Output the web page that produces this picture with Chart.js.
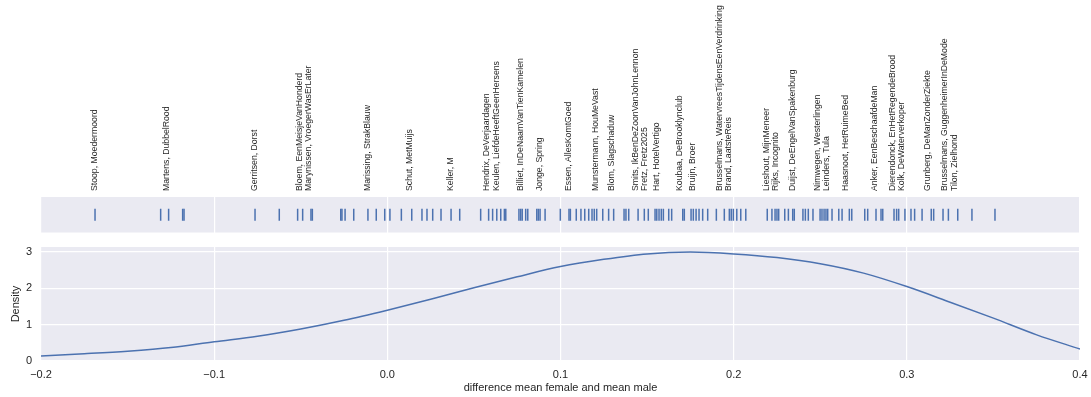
<!DOCTYPE html>
<html>
<head>
<meta charset="utf-8">
<script src="https://cdn.jsdelivr.net/npm/chart.js@4.4.1/dist/chart.umd.min.js"></script>
<style>
  html, body { margin: 0; padding: 0; background: #ffffff; }
  #wrap { position: relative; width: 1091px; height: 397px; }
  canvas { position: absolute; left: 0; }
  #top { top: 0; }
  #bottom { top: 240px; }
</style>
</head>
<body>
<div id="wrap">
  <canvas id="top" width="1091" height="240"></canvas>
  <canvas id="bottom" width="1091" height="157"></canvas>
</div>
<script>
// ---- data ----
const rugValues = [-0.1688,-0.1309,-0.1263,-0.1182,-0.1174,-0.0764,-0.0624,-0.0518,-0.0489,-0.0441,-0.0433,-0.0269,-0.0262,-0.0244,-0.0194,-0.0112,-0.0064,-0.0015,0.0015,0.0081,0.0141,0.0200,0.0229,0.0262,0.0310,0.0368,0.0418,0.0539,0.0585,0.0608,0.0632,0.0655,0.0676,0.0684,0.0760,0.0770,0.0779,0.0799,0.0811,0.0863,0.0872,0.0882,0.0911,0.0999,0.1049,0.1057,0.1091,0.1118,0.1140,0.1163,0.1182,0.1195,0.1209,0.1244,0.1278,0.1307,0.1367,0.1378,0.1394,0.1448,0.1484,0.1507,0.1546,0.1556,0.1569,0.1582,0.1594,0.1625,0.1642,0.1706,0.1715,0.1754,0.1767,0.1783,0.1800,0.1821,0.1850,0.1900,0.1946,0.1975,0.1986,0.1998,0.2018,0.2041,0.2070,0.2194,0.2221,0.2239,0.2250,0.2260,0.2295,0.2316,0.2341,0.2350,0.2400,0.2414,0.2431,0.2458,0.2499,0.2510,0.2522,0.2533,0.2543,0.2568,0.2607,0.2626,0.2668,0.2682,0.2757,0.2774,0.2822,0.2851,0.2861,0.2926,0.2941,0.2953,0.2989,0.3024,0.3045,0.3088,0.3141,0.3155,0.3209,0.3240,0.3294,0.3376,0.3509];

const labelNames = [
  "Stoop, Moedermoord","Martens, DubbelRood","Gerritsen, Dorst","Bloem, EenMeisjeVanHonderd",
  "Marynissen, VroegerWasErLater","Marissing, StrakBlauw","Schut, MetMuijs","Keller, M",
  "Hendrix, DeVerjaardagen","Keulen, LiefdeHeeftGeenHersens","Billiet, InDeNaamVanTienKamelen","Jonge, Spring",
  "Essen, AllesKomtGoed","Munstermann, HouMeVast","Blom, Slagschaduw","Smits, IkBenDeZoonVanJohnLennon",
  "Fretz, Fretz2025","Hart, HotelVertigo","Koubaa, DeBrooklynclub","Bruijn, Broer",
  "Brusselmans, WatervreesTijdensEenVerdrinking","Brand, LaatsteReis","Lieshout, MijnMeneer","Rijks, Incognito",
  "Duijst, DeEngelVanSpakenburg","Nimwegen, Westerlingen","Leinders, Tula","Haasnoot, HetRuimeBed",
  "Anker, EenBeschaafdeMan","Dierendonck, EnHetRegendeBrood","Kolk, DeWaterverkoper","Grunberg, DeManZonderZiekte",
  "Brusselmans, GuggenheimerInDeMode","Tilon, Zielhond"
];
const labelValues = [-0.1688,-0.1272,-0.0764,-0.0504,-0.0452,-0.0115,0.0131,0.0368,0.0576,0.0633,0.0772,0.0882,
  0.1049,0.1205,0.1297,0.1436,0.1488,0.1557,0.1690,0.1765,0.1921,0.1973,0.2192,0.2244,0.2343,0.2487,0.2539,0.2649,
  0.2816,0.2920,0.2972,0.3122,0.3220,0.3273];

const densityX = [-0.2,-0.175,-0.15,-0.125,-0.1,-0.075,-0.05,-0.025,0,0.025,0.05,0.075,0.1,0.125,0.15,0.175,0.2,0.225,0.25,0.275,0.3,0.325,0.35,0.375,0.4];
const densityY = [0.14,0.20,0.27,0.37,0.53,0.68,0.88,1.12,1.40,1.70,2.02,2.32,2.60,2.80,2.95,3.00,2.95,2.85,2.68,2.42,2.05,1.62,1.18,0.72,0.33];

const xTicks = [-0.2,-0.1,0,0.1,0.2,0.3,0.4];
const yTicks = [0,1,2,3];

// ---- styles ----
const PANEL_BG = '#EAEAF2';
const BLUE = '#4C72B0';
const TEXT = '#262626';
const FONT = "'Liberation Sans', Arial, sans-serif";

const panelBg = {
  id: 'panelBg',
  beforeDraw(chart) {
    const {ctx, chartArea: a} = chart;
    ctx.save();
    ctx.fillStyle = PANEL_BG;
    ctx.fillRect(a.left, a.top, a.right - a.left, a.bottom - a.top);
    ctx.restore();
  }
};

const nameLabels = {
  id: 'nameLabels',
  afterDraw(chart) {
    const {ctx} = chart;
    const xs = chart.scales.x;
    ctx.save();
    ctx.fillStyle = TEXT;
    ctx.font = "8.7px " + FONT;
    ctx.textAlign = 'left';
    ctx.textBaseline = 'middle';
    labelNames.forEach((name, i) => {
      const px = xs.getPixelForValue(labelValues[i]);
      ctx.save();
      ctx.translate(px, 191);
      ctx.rotate(-Math.PI / 2);
      ctx.fillText(name, 0, 0);
      ctx.restore();
    });
    ctx.restore();
  }
};

const fmt = v => (v < 0 ? '\u2212' : '') + Math.abs(v).toFixed(1);
const noPad = s => { s.paddingLeft = 0; s.paddingRight = 0; s.paddingTop = 0; s.paddingBottom = 0; };

new Chart(document.getElementById('top'), {
  type: 'scatter',
  data: {
    datasets: [{
      data: rugValues.map(v => ({x: v, y: 0.5})),
      pointStyle: 'line',
      rotation: 90,
      radius: 6,
      hoverRadius: 6,
      borderColor: BLUE,
      borderWidth: 1.5,
      backgroundColor: BLUE
    }]
  },
  options: {
    responsive: false,
    devicePixelRatio: 1,
    animation: false,
    events: [],
    layout: { padding: { left: 41, right: 11, top: 197, bottom: 7 } },
    plugins: { legend: { display: false }, tooltip: { enabled: false } },
    scales: {
      x: {
        type: 'linear', min: -0.2, max: 0.4,
        afterBuildTicks: s => { s.ticks = xTicks.map(v => ({value: v})); },
        afterFit: s => { s.height = 0; noPad(s); },
        ticks: { display: false },
        grid: { color: '#ffffff', lineWidth: 1.2, drawTicks: false },
        border: { display: false }
      },
      y: { display: false, min: 0, max: 1 }
    }
  },
  plugins: [panelBg, nameLabels]
});

new Chart(document.getElementById('bottom'), {
  type: 'scatter',
  data: {
    datasets: [{
      data: densityX.map((x, i) => ({x: x, y: densityY[i]})),
      showLine: true,
      borderColor: BLUE,
      borderWidth: 1.5,
      pointRadius: 0,
      pointHoverRadius: 0,
      tension: 0.4,
      cubicInterpolationMode: 'monotone',
      fill: false
    }]
  },
  options: {
    responsive: false,
    devicePixelRatio: 1,
    animation: false,
    events: [],
    layout: { padding: { left: 0, right: 11, top: 7, bottom: 0 } },
    plugins: { legend: { display: false }, tooltip: { enabled: false } },
    scales: {
      x: {
        type: 'linear', min: -0.2, max: 0.4,
        afterBuildTicks: s => { s.ticks = xTicks.map(v => ({value: v})); },
        afterFit: s => { s.height = 36; noPad(s); },
        ticks: { color: TEXT, font: { family: FONT, size: 11 }, padding: 7, maxRotation: 0, callback: v => fmt(v) },
        grid: { color: '#ffffff', lineWidth: 1.2, drawTicks: false },
        border: { display: false },
        title: { display: true, text: 'difference mean female and mean male', color: TEXT,
                 font: { family: FONT, size: 11 }, padding: { top: 0, bottom: 2 } }
      },
      y: {
        type: 'linear', min: 0, max: 3.14,
        afterBuildTicks: s => { s.ticks = yTicks.map(v => ({value: v})); },
        afterFit: s => { s.width = 41; noPad(s); },
        ticks: { color: TEXT, font: { family: FONT, size: 11 }, padding: 9, callback: v => String(v) },
        grid: { color: '#ffffff', lineWidth: 1.2, drawTicks: false },
        border: { display: false },
        title: { display: true, text: 'Density', color: TEXT,
                 font: { family: FONT, size: 11 }, padding: { top: 9, bottom: 0 } }
      }
    }
  },
  plugins: [panelBg]
});
</script>
</body>
</html>
